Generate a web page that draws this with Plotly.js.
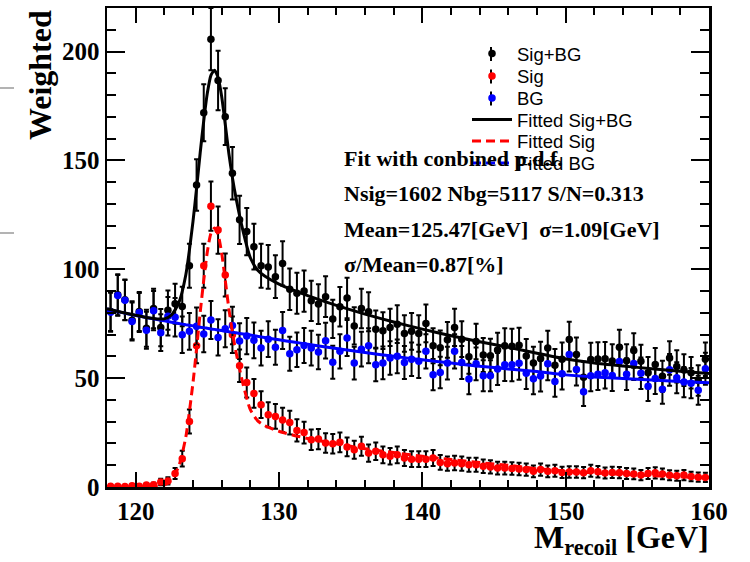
<!DOCTYPE html>
<html>
<head>
<meta charset="utf-8">
<script src="https://cdn.plot.ly/plotly-3.0.1.min.js"></script>
<style>
  html, body { margin: 0; padding: 0; background: #fff; }
  #chart { width: 750px; height: 562px; }
</style>
</head>
<body>
<div id="chart"></div>
<script>
// Recoil-mass histogram: 0.5 GeV bins from 118 to 160 GeV
const BIN_LO = 118;
const BIN_W = 0.5;

// Weighted counts per bin
const sigBg = [80.6, 88.3, 86.0, 76.6, 80.6, 72.9, 82.0, 73.2, 81.2, 84.2,
  82.9, 101.6, 138.7, 171.9, 205.7, 186.7, 170.1, 144.1, 122.7, 117.3,
  110.4, 101.6, 101.1, 96.6, 102.7, 90.8, 89.0, 90.0, 85.5, 84.0,
  87.4, 77.2, 82.8, 86.8, 74.0, 82.0, 80.5, 72.5, 71.8, 73.3,
  74.8, 70.5, 71.5, 70.5, 75.1, 64.9, 63.9, 67.6, 73.3, 67.9,
  59.8, 66.8, 60.6, 60.3, 62.9, 64.9, 64.6, 65.1, 60.2, 56.9,
  59.0, 63.8, 55.9, 58.7, 67.7, 60.9, 50.4, 58.6, 58.8, 58.9,
  57.9, 64.2, 58.0, 62.7, 57.7, 52.5, 56.3, 50.9, 59.2, 55.4,
  53.7, 52.5, 48.9, 58.7];

const sig = [0.3, 0.3, 0.2, 0.6, 0.4, 0.9, 1.0, 2.3, 2.8, 6.2,
  13.0, 30.1, 64.9, 101.6, 129.0, 118.0, 97.4, 69.9, 55.7, 48.0,
  43.0, 37.8, 33.2, 32.4, 30.8, 29.6, 26.0, 25.0, 21.7, 22.0,
  20.2, 19.9, 20.5, 18.4, 17.1, 18.7, 15.6, 16.4, 14.8, 14.1,
  14.8, 13.3, 12.8, 12.8, 12.8, 13.3, 11.3, 10.7, 11.0, 10.7,
  10.2, 10.2, 9.5, 9.2, 8.7, 8.7, 8.5, 8.3, 8.0, 7.2,
  8.0, 7.2, 7.5, 6.7, 6.9, 6.9, 6.6, 7.5, 7.0, 6.4,
  6.7, 6.6, 6.2, 6.0, 5.5, 6.2, 6.5, 6.0, 5.4, 5.2,
  5.5, 4.8, 4.5, 4.4];

const bg = [80.3, 88.0, 85.8, 76.0, 80.2, 72.0, 81.0, 70.9, 78.4, 78.0,
  69.9, 71.5, 73.8, 70.3, 76.7, 68.7, 72.7, 74.2, 67.0, 69.3,
  67.4, 63.8, 67.9, 64.2, 71.9, 61.2, 63.0, 65.0, 63.8, 62.0,
  67.2, 57.3, 62.3, 68.4, 56.9, 63.3, 64.9, 56.1, 57.0, 59.2,
  60.0, 57.2, 58.7, 57.7, 62.3, 51.6, 52.6, 56.9, 62.3, 57.2,
  49.6, 56.6, 51.1, 51.1, 54.2, 56.2, 56.1, 56.8, 52.2, 49.7,
  51.0, 56.6, 48.4, 52.0, 60.8, 54.0, 43.8, 51.1, 51.8, 52.5,
  51.2, 57.6, 51.8, 56.7, 52.2, 46.3, 49.8, 44.9, 53.8, 50.2,
  48.2, 47.7, 44.4, 54.3];

// Fitted p.d.f. curves, sampled in GeV
const fitX = [118, 119, 120, 121, 121.5, 122, 122.5, 123, 123.5, 124,
  124.25, 124.5, 124.75, 125, 125.25, 125.5, 125.75, 126, 126.25, 126.5,
  126.75, 127, 127.5, 128, 128.5, 129, 130, 131, 132, 134,
  136, 138, 140, 142, 144, 146, 148, 150, 152, 154,
  156, 158, 160];
const fitSigBg = [81.9, 80.3, 78.9, 77.6, 77.2, 77.2, 79.0, 84.4, 97.5, 122.0,
  137.2, 153.4, 168.2, 180.9, 189.1, 191.4, 188.1, 179.4, 166.6, 153.3,
  142.1, 132.8, 117.3, 105.3, 99.7, 96.9, 93.2, 90.4, 87.9, 83.4,
  79.4, 75.8, 72.5, 69.5, 66.7, 64.2, 61.4, 58.8, 57.0, 55.6,
  54.3, 53.2, 52.1];
const fitSig = [0.1, 0.1, 0.1, 0.1, 0.3, 0.9, 3.3, 9.3, 23.0, 48.0,
  63.5, 80.0, 95.0, 108.0, 116.5, 119.0, 116.0, 107.5, 95.0, 82.0,
  71.0, 62.0, 47.0, 35.5, 30.5, 28.2, 25.6, 23.8, 22.3, 19.8,
  17.6, 15.8, 14.1, 12.6, 11.2, 10.0, 8.4, 7.3, 6.5, 5.8,
  5.2, 4.7, 4.2];
const fitBg = [81.8, 80.2, 78.8, 77.5, 76.9, 76.3, 75.7, 75.1, 74.5, 74.0,
  73.7, 73.4, 73.2, 72.9, 72.6, 72.4, 72.1, 71.9, 71.6, 71.3,
  71.1, 70.8, 70.3, 69.8, 69.2, 68.7, 67.6, 66.6, 65.6, 63.6,
  61.8, 60.0, 58.4, 56.9, 55.5, 54.2, 53.0, 51.5, 50.5, 49.8,
  49.1, 48.5, 47.9];

const fitInfo = [
  'Fit with conbined p.d.f.',
  'Nsig=1602 Nbg=5117 S/N=0.313',
  'Mean=125.47[GeV]  \u03c3=1.09[GeV]',
  '\u03c3/Mean=0.87[%]'
];

// ---- page geometry ----
const W = 750, H = 562;
const M = { l: 107, r: 41, t: 8, b: 75 };
const PW = W - M.l - M.r, PH = H - M.t - M.b;
const px = p => (p - M.l) / PW;          // page x (px) -> paper
const py = p => (H - M.b - p) / PH;      // page y (px) -> paper

const centers = sigBg.map((_, i) => BIN_LO + (i + 0.5) * BIN_W);
const poisson = arr => arr.map(v => Math.sqrt(v));

const SERIF = 'Liberation Serif, Times New Roman, serif';
const SANS = 'Liberation Sans, Arial, sans-serif';

function dataTrace(y, color, name, legend) {
  return {
    type: 'scatter', mode: 'markers', x: centers, y: y, name: name, legend: legend,
    marker: { color: color, size: 7.5 },
    error_y: { type: 'data', array: poisson(y), visible: true,
               color: '#000', thickness: 2, width: 2.5 },
    cliponaxis: true
  };
}

const traces = [
  dataTrace(sigBg, '#000000', 'Sig+BG', 'legend'),
  dataTrace(sig, '#ff0000', 'Sig', 'legend2'),
  dataTrace(bg, '#0000ff', 'BG', 'legend3'),
  { type: 'scatter', mode: 'lines', x: fitX, y: fitBg, showlegend: false,
    line: { color: '#0000ff', width: 3, shape: 'spline', smoothing: 0.6 } },
  { type: 'scatter', mode: 'lines', x: fitX, y: fitSigBg, name: 'Fitted Sig+BG', legend: 'legend4',
    line: { color: '#000000', width: 3, shape: 'spline', smoothing: 0.6 } },
  { type: 'scatter', mode: 'lines', x: fitX, y: fitSig, name: 'Fitted Sig', legend: 'legend5',
    line: { color: '#ff0000', width: 3, dash: '9px,5px', shape: 'spline', smoothing: 0.6 } },
  // legend key for the background fit
  { type: 'scatter', mode: 'lines', x: [null], y: [null], name: 'Fitted BG', legend: 'legend6',
    line: { color: '#0000ff', width: 3, dash: '9px,5px' } }
];

const rowY = [54, 76.5, 98.5, 120, 141.5, 163.5];
const LEG_X = 467;
const KEY_X = 491;   // centre of the legend keys
function legendBox(i) {
  return { x: px(LEG_X), y: py(rowY[i]), xanchor: 'left', yanchor: 'middle',
           bgcolor: 'rgba(0,0,0,0)', borderwidth: 0, itemwidth: 40,
           font: { family: SANS, size: 18.5, color: '#000' } };
}

const annotations = [
  { text: '<b>Weighted</b>', textangle: -90, xref: 'paper', yref: 'paper',
    x: px(40), y: py(8), xanchor: 'center', yanchor: 'top', showarrow: false,
    font: { family: SERIF, size: 32, color: '#000' } },
  { text: '<b>M<sub>recoil</sub> [GeV]</b>', xref: 'paper', yref: 'paper',
    x: px(711), y: py(562), xanchor: 'right', yanchor: 'bottom', showarrow: false,
    font: { family: SERIF, size: 32, color: '#000' } }
];
const infoY = [158, 193, 229, 264];
fitInfo.forEach((t, i) => annotations.push({
  text: '<b>' + t + '</b>', xref: 'paper', yref: 'paper',
  x: px(342), y: py(infoY[i]), xanchor: 'left', yanchor: 'middle', showarrow: false,
  font: { family: SERIF, size: 22, color: '#000' }
}));

// short vertical error-bar marks on the data legend keys, plus the two grey rules at the left edge
const shapes = [0, 1, 2].map(i => ({
  type: 'line', xref: 'paper', yref: 'paper', layer: 'above',
  x0: px(KEY_X), x1: px(KEY_X), y0: py(rowY[i] - 7), y1: py(rowY[i] + 7),
  line: { color: '#000', width: 2 }
}));
[88, 233].forEach(yy => shapes.push({
  type: 'line', xref: 'paper', yref: 'paper', x0: px(0), x1: px(14), y0: py(yy), y1: py(yy),
  line: { color: '#9a9a9a', width: 1.5 }
}));

const axisCommon = {
  showgrid: false, zeroline: false, showline: true, linecolor: '#000', linewidth: 2.5,
  mirror: 'ticks', ticks: 'inside', tickcolor: '#000', tickwidth: 2,
  tickfont: { family: SERIF, size: 25, weight: 'bold', color: '#000' }
};

const layout = {
  width: W, height: H, margin: M,
  paper_bgcolor: '#fff', plot_bgcolor: '#fff',
  xaxis: Object.assign({}, axisCommon, {
    range: [118, 160], dtick: 10, ticklen: 15,
    minor: { dtick: 2, ticks: 'inside', ticklen: 7, tickwidth: 2, tickcolor: '#000', showgrid: false }
  }),
  yaxis: Object.assign({}, axisCommon, {
    range: [0, 220], dtick: 50, ticklen: 18,
    minor: { dtick: 10, ticks: 'inside', ticklen: 9, tickwidth: 2, tickcolor: '#000', showgrid: false }
  }),
  legend: legendBox(0), legend2: legendBox(1), legend3: legendBox(2),
  legend4: legendBox(3), legend5: legendBox(4), legend6: legendBox(5),
  annotations: annotations,
  shapes: shapes
};

Plotly.newPlot('chart', traces, layout, { staticPlot: true });
</script>
</body>
</html>
